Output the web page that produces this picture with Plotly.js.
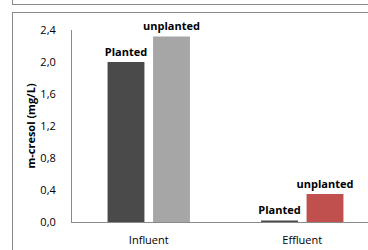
<!DOCTYPE html>
<html>
<head>
<meta charset="utf-8">
<script src="https://cdn.plot.ly/plotly-3.0.1.min.js"></script>
<style>
html,body{margin:0;padding:0;width:368px;height:250px;overflow:hidden;background:#fff;}
#chart{position:absolute;left:0;top:0;width:400px;height:250px;}
.box{position:absolute;border:1px solid #8a8a8a;pointer-events:none;}
</style>
</head>
<body>
<div id="chart"></div>
<div class="box" style="left:12px;top:-20px;width:400px;height:23px;"></div>
<div class="box" style="left:12px;top:12px;width:400px;height:260px;"></div>
<script>
const categories = ["Influent", "Effluent"];
const plantedValues = [2.00, 0.02];
const unplantedValues = [2.32, 0.35];
const plantedLabels = ["Planted", "Planted"];
const unplantedLabels = ["unplanted", "unplanted"];
const plantedColors = ["#4a4a4a", "#4a4a4a"];
const unplantedColors = ["#a6a6a6", "#c0504d"];
const yTicks = [0, 0.4, 0.8, 1.2, 1.6, 2.0, 2.4];

const font = "'Open Sans', sans-serif";
const traces = [
  {type: "bar", x: categories, y: plantedValues, name: "Planted",
   marker: {color: plantedColors}, text: plantedLabels, textposition: "outside",
   texttemplate: "<b>%{text}</b>", cliponaxis: false, constraintext: "none",
   textfont: {family: font, size: 11, color: "#000"}, hoverinfo: "none"},
  {type: "bar", x: categories, y: unplantedValues, name: "unplanted",
   marker: {color: unplantedColors}, text: unplantedLabels, textposition: "outside",
   texttemplate: "<b>%{text}</b>", cliponaxis: false, constraintext: "none",
   textfont: {family: font, size: 11, color: "#000"}, hoverinfo: "none"}
];
const layout = {
  width: 400, height: 250,
  margin: {l: 72, r: 21, t: 30, b: 28},
  paper_bgcolor: "#fff", plot_bgcolor: "#fff",
  showlegend: false,
  separators: ", ",
  barmode: "group", bargap: 0.407, bargroupgap: 0.19,
  font: {family: font, size: 11, color: "#000"},
  xaxis: {showline: true, linecolor: "#8a8a8a", linewidth: 1, ticks: "",
          ticklabelstandoff: 8, tickfont: {size: 11}, fixedrange: true},
  yaxis: {range: [0, 2.4], tickvals: yTicks, tickformat: ".1f", showgrid: false,
          zeroline: false, showline: true, linecolor: "#8a8a8a", linewidth: 1,
          ticks: "", ticklabelstandoff: 13, tickfont: {size: 11},
          title: {text: "<b>m-cresol (mg/L)</b>", font: {size: 11}, standoff: 2},
          fixedrange: true}
};
Plotly.newPlot("chart", traces, layout, {displayModeBar: false, staticPlot: true});
</script>
</body>
</html>
